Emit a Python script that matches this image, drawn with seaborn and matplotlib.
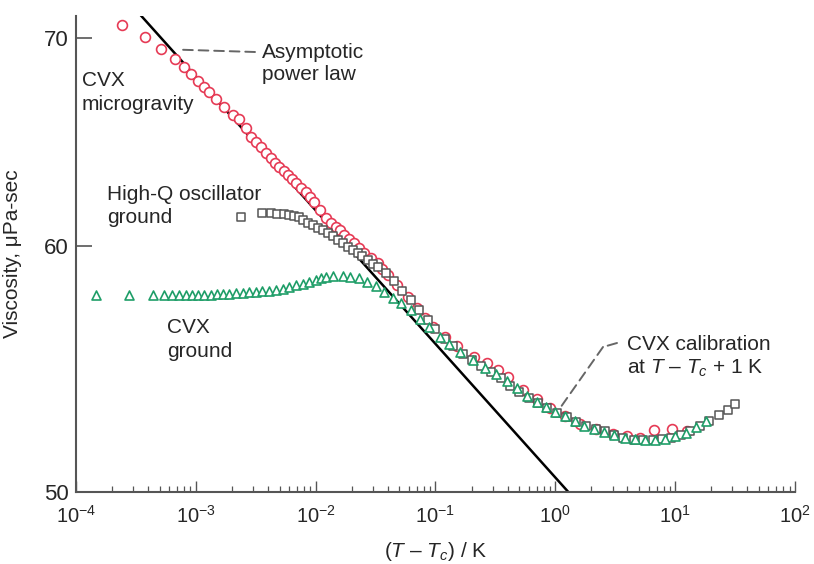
import numpy as np
import matplotlib
matplotlib.use("Agg")
import matplotlib.pyplot as plt
from matplotlib import ticker
import seaborn as sns

# ==============================
# DATA
# ==============================

# CVX microgravity (red circles)
micro_x = [
    2.4e-4, 3.8e-4, 5.1e-4, 6.7e-4, 7.9e-4, 9.1e-4, 1.04e-3, 1.17e-3, 1.28e-3, 1.47e-3,
    1.71e-3, 2.03e-3, 2.28e-3, 2.6e-3, 2.87e-3, 3.2e-3, 3.48e-3, 3.85e-3, 4.22e-3, 4.6e-3,
    4.92e-3, 5.4e-3, 5.84e-3, 6.3e-3, 6.81e-3, 7.5e-3, 8.25e-3, 8.9e-3, 9.62e-3, 1.08e-2,
    1.21e-2, 1.33e-2, 1.47e-2, 1.6e-2, 1.71e-2, 1.9e-2, 2.07e-2, 2.3e-2, 2.51e-2, 2.9e-2,
    3.29e-2, 3.6e-2, 3.98e-2, 4.8e-2, 5.84e-2, 7.0e-2, 8.2e-2, 9.6e-2, 0.12, 0.15,
    0.21, 0.27, 0.33, 0.40, 0.54, 0.7, 0.9, 1.2, 1.6, 2.2,
    3.0, 4.0, 5.1, 6.6, 9.4, 12.6,
]
micro_y = [
    70.7, 70.05, 69.45, 68.9, 68.5, 68.15, 67.8, 67.5, 67.25, 66.9,
    66.5, 66.1, 65.9, 65.5, 65.05, 64.8, 64.57, 64.3, 64.05, 63.8,
    63.62, 63.45, 63.25, 63.05, 62.88, 62.65, 62.46, 62.2, 62.0, 61.6,
    61.27, 61.05, 60.86, 60.7, 60.5, 60.3, 60.14, 59.9, 59.69, 59.45,
    59.25, 59.0, 58.73, 58.3, 57.78, 57.3, 56.9, 56.51, 56.1, 55.7,
    55.26, 55.0, 54.73, 54.45, 53.92, 53.55, 53.2, 52.9, 52.6, 52.4,
    52.2, 52.1, 52.05, 52.35, 52.4, 52.3,
]

# High-Q oscillator ground (gray squares)
hq_x = [
    2.4e-3, 3.6e-3, 4.2e-3, 4.8e-3, 5.4e-3, 6.0e-3, 6.6e-3, 7.2e-3, 7.9e-3, 8.6e-3,
    9.5e-3, 1.04e-2, 1.15e-2, 1.26e-2, 1.4e-2, 1.53e-2, 1.7e-2, 1.85e-2, 2.05e-2, 2.24e-2,
    2.45e-2, 2.71e-2, 3.0e-2, 3.29e-2, 3.83e-2, 4.5e-2, 5.3e-2, 6.2e-2, 7.3e-2, 8.6e-2,
    0.10, 0.12, 0.14, 0.17, 0.20, 0.24, 0.29, 0.35, 0.42, 0.50,
    0.60, 0.72, 0.86, 1.03, 1.24, 1.5, 1.8, 2.2, 2.6, 3.1,
    3.7, 4.5, 5.4, 6.5, 7.8, 9.3, 11.2, 13.4, 16.1, 19.3,
    23.2, 27.8, 31.6,
]
hq_y = [
    61.3, 61.5, 61.48, 61.45, 61.42, 61.38, 61.34, 61.3, 61.18, 61.04,
    60.92, 60.81, 60.7, 60.59, 60.43, 60.28, 60.12, 59.96, 59.83, 59.69,
    59.55, 59.38, 59.22, 59.07, 58.81, 58.45, 58.05, 57.65, 57.2, 56.8,
    56.4, 56.0, 55.7, 55.4, 55.15, 54.9, 54.65, 54.4, 54.1, 53.85,
    53.6, 53.4, 53.2, 53.0, 52.85, 52.65, 52.5, 52.4, 52.3, 52.15,
    52.05, 51.95, 51.95, 51.95, 52.0, 52.05, 52.15, 52.3, 52.5, 52.7,
    52.95, 53.15, 53.35,
]

# CVX ground (green triangles)
ground_x = [
    1.47e-4, 2.76e-4, 4.38e-4, 5.41e-4, 6.3e-4, 7.2e-4, 8.2e-4, 9.3e-4, 1.05e-3, 1.18e-3,
    1.33e-3, 1.5e-3, 1.7e-3, 1.9e-3, 2.15e-3, 2.46e-3, 2.8e-3, 3.2e-3, 3.6e-3, 4.1e-3,
    4.64e-3, 5.3e-3, 6.0e-3, 6.9e-3, 7.8e-3, 8.74e-3, 1.0e-2, 1.1e-2, 1.21e-2, 1.4e-2,
    1.68e-2, 1.95e-2, 2.28e-2, 2.7e-2, 3.16e-2, 3.7e-2, 4.4e-2, 5.2e-2, 6.2e-2, 7.4e-2,
    8.8e-2, 0.11, 0.13, 0.16, 0.207, 0.26, 0.32, 0.398, 0.48, 0.58,
    0.70, 0.84, 1.0, 1.2, 1.45, 1.75, 2.1, 2.55, 3.1, 3.8,
    4.6, 5.6, 6.8, 8.2, 10.0, 12.2, 14.9, 18.2,
]
ground_y = [
    57.85, 57.85, 57.85, 57.85, 57.85, 57.85, 57.85, 57.86, 57.86, 57.87,
    57.88, 57.89, 57.9, 57.92, 57.93, 57.95, 57.97, 58.0, 58.02, 58.05,
    58.08, 58.13, 58.2, 58.28, 58.35, 58.42, 58.52, 58.58, 58.64, 58.67,
    58.68, 58.65, 58.58, 58.42, 58.25, 58.0, 57.75, 57.5, 57.2, 56.85,
    56.5, 56.1, 55.8, 55.45, 55.13, 54.8, 54.55, 54.3, 54.0, 53.7,
    53.45, 53.25, 53.05, 52.88, 52.7, 52.52, 52.4, 52.28, 52.15, 52.05,
    52.0, 51.98, 51.98, 52.02, 52.1, 52.25, 52.45, 52.7,
]

# asymptotic power law  eta = A * t^(-x)
law_amp = 50.54
law_exp = 0.043

y_ticks = [50, 60, 70]

# ==============================
# STYLE
# ==============================

sns.set_style("ticks")
plt.rcParams["font.family"] = ["Liberation Sans", "DejaVu Sans"]
plt.rcParams["mathtext.fontset"] = "custom"
plt.rcParams["mathtext.rm"] = "Liberation Sans"
plt.rcParams["mathtext.it"] = "Liberation Sans:italic"
plt.rcParams["mathtext.default"] = "regular"

red = "#e63a55"
gray = "#555555"
green = "#1f9e68"
txt = "#262626"
axis_col = "#555555"

fig = plt.figure(figsize=(8.14, 5.64), dpi=100)
ax = fig.add_axes([76 / 814, 72 / 564, 719 / 814, 476 / 564])
ax.set_xscale("log")
ax.set_yscale("log")

# ==============================
# CURVES
# ==============================

law_t = np.logspace(-4, 2, 200)
law_eta = law_amp * law_t ** (-law_exp)
sns.lineplot(x=law_t, y=law_eta, color="black", linewidth=1.8, ax=ax, zorder=1)

sns.scatterplot(x=micro_x, y=micro_y, marker="o", s=50, facecolor="white",
                edgecolor=red, linewidth=1.2, legend=False, ax=ax, zorder=2)
sns.scatterplot(x=hq_x, y=hq_y, marker="s", s=32, facecolor="white",
                edgecolor=gray, linewidth=1.1, legend=False, ax=ax, zorder=3)
sns.scatterplot(x=ground_x, y=ground_y, marker="^", s=42, facecolor="white",
                edgecolor=green, linewidth=1.2, legend=False, ax=ax, zorder=4)

# ==============================
# AXES
# ==============================

ax.set_xlim(1e-4, 1e2)
ax.set_ylim(50, 71.15)

ax.xaxis.set_major_locator(ticker.LogLocator(base=10, numticks=10))
ax.xaxis.set_minor_locator(ticker.LogLocator(base=10, subs=np.arange(2, 10), numticks=20))
ax.xaxis.set_minor_formatter(ticker.NullFormatter())
ax.yaxis.set_major_locator(ticker.FixedLocator(y_ticks))
ax.yaxis.set_major_formatter(ticker.StrMethodFormatter("{x:.0f}"))
ax.yaxis.set_minor_locator(ticker.NullLocator())

ax.tick_params(axis="x", which="major", direction="in", length=8, width=1,
               pad=9, labelsize=14.5, color=axis_col, labelcolor=txt)
ax.tick_params(axis="x", which="minor", direction="in", length=4, width=0.9,
               color=axis_col)
ax.tick_params(axis="y", which="major", direction="in", length=11.5, width=1.2,
               pad=5, labelsize=16, color=axis_col, labelcolor=txt)

sns.despine(ax=ax)
for side in ["left", "bottom"]:
    ax.spines[side].set_color(axis_col)
    ax.spines[side].set_linewidth(1.5)

ax.set_xlabel(r"($\mathit{T}$ – $\mathit{T}_\mathit{c}$) / K", fontsize=15, color=txt)
ax.xaxis.label.set_va("center")
ax.xaxis.set_label_coords(0.5, -0.125)
ax.set_ylabel("Viscosity, μPa-sec", fontsize=15, color=txt)
ax.yaxis.set_label_coords(-0.075, 0.5)

# ==============================
# ANNOTATIONS
# ==============================

def label(px, py, s):
    fig.text(px / 814, 1 - py / 564, s, fontsize=15, color=txt,
             ha="left", va="baseline")

label(262, 58, "Asymptotic")
label(262, 80, "power law")
label(82, 86, "CVX")
label(82, 110, "microgravity")
label(107, 200, "High-Q oscillator")
label(107, 223, "ground")
label(167, 333, "CVX")
label(167, 357, "ground")
label(627, 350, "CVX calibration")
label(627, 374, r"at $\mathit{T}$ – $\mathit{T}_\mathit{c}$ + 1 K")

dash = dict(arrowstyle="-", color="#666666", lw=1.4, linestyle=(0, (5, 3)),
            shrinkA=0, shrinkB=0)
ax.annotate("", xy=(7.0e-4, 69.4), xycoords="data",
            xytext=(255, 564 - 52), textcoords="figure pixels", arrowprops=dash)
ax.annotate("", xy=(1.13, 53.3), xycoords="data",
            xytext=(603, 564 - 347), textcoords="figure pixels", arrowprops=dash)
ax.annotate("", xy=(603, 564 - 347), xycoords="figure pixels",
            xytext=(617, 564 - 343), textcoords="figure pixels", arrowprops=dash)

fig.savefig("out.png", dpi=100)
